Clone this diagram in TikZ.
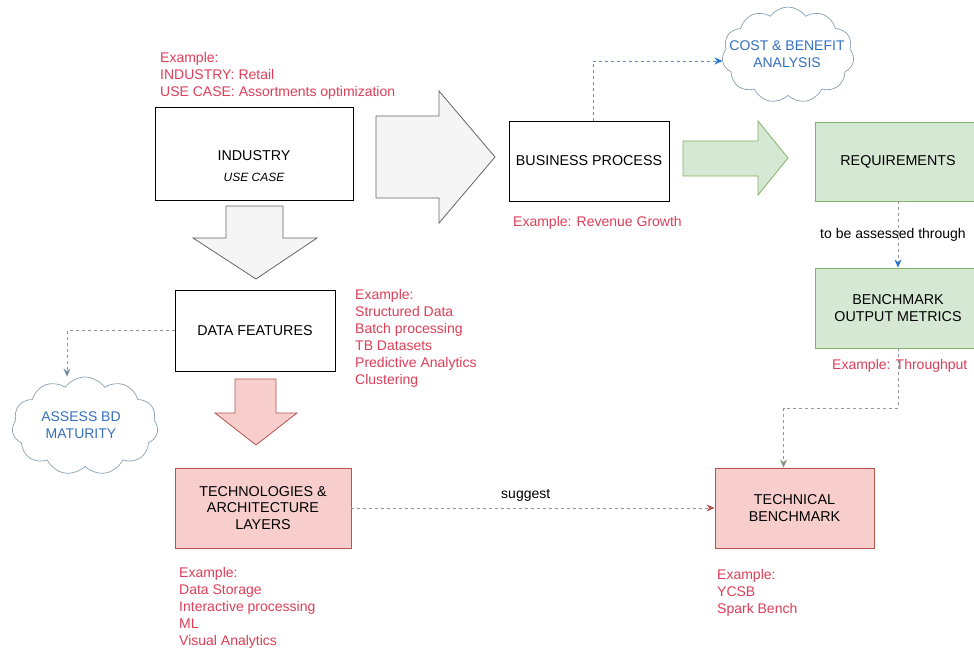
\documentclass[tikz,border=0pt]{standalone}
\usepackage{fontspec}
\setmainfont{Liberation Sans}
\usetikzlibrary{arrows.meta,shapes.symbols}
\definecolor{redtxt}{RGB}{222,62,88}
\definecolor{bluetxt}{RGB}{52,112,190}
\definecolor{greenfill}{HTML}{D5E8D4}
\definecolor{greenline}{HTML}{82B366}
\definecolor{pinkfill}{HTML}{F8CECC}
\definecolor{pinkline}{HTML}{B85450}
\definecolor{grayfill}{HTML}{F5F5F5}
\definecolor{grayline}{HTML}{666666}
\definecolor{dashgray}{RGB}{150,150,150}
\definecolor{dashblue}{RGB}{90,140,200}
\definecolor{headblue}{RGB}{40,120,210}
\definecolor{headgray}{RGB}{120,140,160}
\definecolor{headgreen}{RGB}{125,150,130}
\definecolor{cloudline}{RGB}{140,160,180}
\newcommand{\bxfont}{\fontsize{14.3}{16.5}\selectfont}
\newcommand{\exfont}{\fontsize{14}{17}\selectfont}
\begin{document}
\begin{tikzpicture}[x=1pt,y=-1pt,
  box/.style={draw=black, line width=0.9pt, inner sep=0pt, align=center, font=\bxfont, fill=white},
  greenbox/.style={box, draw=greenline, fill=greenfill},
  pinkbox/.style={box, draw=pinkline, fill=pinkfill},
  extext/.style={anchor=north west, inner sep=0pt, align=left, text=redtxt, font=\exfont},
  cloudnode/.style={cloud, cloud puffs=11, cloud puff arc=110, cloud ignores aspect, draw=cloudline, fill=white, line width=0.7pt, inner sep=0pt},
  cloudtext/.style={text=bluetxt, align=center, font=\exfont, inner sep=0pt},
  bigarrow/.style={line width=0.8pt, line join=miter},
  dashline/.style={draw=dashgray, line width=0.8pt, dash pattern=on 3pt off 3pt},
  tiphead/.style={-{Stealth[length=8pt,width=7pt,color=#1]}}
]
\clip (0,0) rectangle (974,650);
\fill[white] (0,0) rectangle (974,650);

% big block arrows
\draw[bigarrow, draw=grayline, fill=grayfill]
  (376,116) -- (439,116) -- (439,91) -- (495,157) -- (439,223) -- (439,198) -- (376,198) -- cycle;
\draw[bigarrow, draw=grayline, fill=grayfill]
  (226,206) -- (283,206) -- (283,238) -- (317,238) -- (256,279) -- (193,238) -- (226,238) -- cycle;
\draw[bigarrow, draw=greenline, fill=greenfill]
  (683,141) -- (758,141) -- (758,121) -- (788,158) -- (758,195) -- (758,176) -- (683,176) -- cycle;
\draw[bigarrow, draw=pinkline, fill=pinkfill]
  (235,379) -- (276,379) -- (276,413) -- (297,413) -- (256,445) -- (215,413) -- (235,413) -- cycle;

% boxes
\node[box, minimum width=198pt, minimum height=93pt] (industry) at (254,153.5) {};
\node[font=\bxfont, inner sep=0pt] (indlabel) at (254,156) {INDUSTRY};
\node[font=\fontsize{12}{14}\selectfont\itshape, inner sep=0pt] (uclabel) at (254,177) {USE CASE};
\node[box, minimum width=160pt, minimum height=80pt] (bp) at (589,161) {BUSINESS PROCESS};
\node[greenbox, minimum width=166pt, minimum height=79pt] (req) at (898,161.5) {REQUIREMENTS};
\node[greenbox, minimum width=166pt, minimum height=80pt] (bench) at (898,308) {BENCHMARK\\OUTPUT METRICS};
\node[box, minimum width=160pt, minimum height=81pt] (df) at (255,330.5) {DATA FEATURES};
\node[pinkbox, minimum width=176pt, minimum height=80pt] (ta) at (263,508) {TECHNOLOGIES \&\\ARCHITECTURE\\LAYERS};
\node[pinkbox, minimum width=159pt, minimum height=80pt] (tb) at (794.5,508) {TECHNICAL\\BENCHMARK};

% clouds
\node[cloudnode, minimum width=132pt, minimum height=96pt] (cost) at (788,55) {};
\node[cloudtext] (costlbl) at (787,54) {COST \& BENEFIT\\ANALYSIS};
\node[cloudnode, minimum width=146pt, minimum height=98pt] (assess) at (85,426) {};
\node[cloudtext] (assesslbl) at (81,425) {ASSESS BD\\MATURITY};

% example texts
\node[extext] (ex1) at (160,52) {Example:\\INDUSTRY: Retail\\USE CASE: Assortments optimization};
\node[extext] (ex2) at (513,216) {Example: Revenue Growth};
\node[extext] (ex3) at (355,289) {Example:\\Structured Data\\Batch processing\\TB Datasets\\Predictive Analytics\\Clustering};
\node[extext] (ex4) at (832,359) {Example: Throughput};
\node[extext] (ex5) at (179,567) {Example:\\Data Storage\\Interactive processing\\ML\\Visual Analytics};
\node[extext] (ex6) at (717,569) {Example:\\YCSB\\Spark Bench};

% connectors
\draw[dashline, draw=dashblue, tiphead=headblue] ([xshift=4pt]bp.north) |- ([yshift=-6pt]cost.west);
\draw[dashline, tiphead=headblue] (req.south) -- (bench.north)
  node[midway, font=\exfont, text=black, inner sep=0pt, xshift=-5pt] (tbat) {to be assessed through};
\coordinate (k1) at (898,408);
\draw[dashline, tiphead=headgreen] (bench.south) -- (k1) -| ([xshift=-11pt]tb.north);
\draw[dashline, tiphead=pinkline] (ta.east) -- (tb.west)
  node[pos=0.48, above=6pt, font=\exfont, text=black, inner sep=0pt] (sug) {suggest};
\draw[dashline, tiphead=headgray] (df.west) -| ([xshift=-18pt]assess.north);
\end{tikzpicture}
\end{document}
